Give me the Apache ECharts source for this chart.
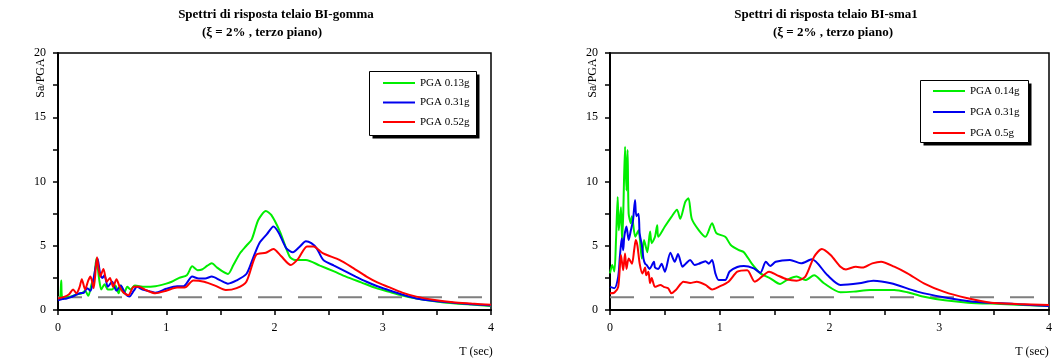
<!DOCTYPE html>
<html>
<head>
<meta charset="utf-8">
<script src="https://cdn.jsdelivr.net/npm/echarts@6/dist/echarts.min.js"></script>
<style>
  html, body { margin: 0; padding: 0; background: #fff; }
  #chart { width: 1060px; height: 362px; }
</style>
</head>
<body>
<div id="chart"></div>
<script>
// tick labels
const xTicks = [0, 1, 2, 3, 4];
const yTicks = [0, 5, 10, 15, 20];

// legend names
const namesGomma = ['PGA 0.13g', 'PGA 0.31g', 'PGA 0.52g'];
const namesSma = ['PGA 0.14g', 'PGA 0.31g', 'PGA 0.5g'];

// reference level Sa/PGA = 1
const refLine = [[0, 1], [4, 1]];

// [T (sec), Sa/PGA] (BI-gomma)
const gommaGreen = [[0,0.85],[0.02,0.9],[0.03,2.3],[0.04,0.95],[0.08,1.0],[0.12,1.05],[0.17,1.2],[0.22,1.3],[0.25,1.5],[0.28,1.1],[0.31,2.0],[0.335,2.6],[0.355,4.0],[0.38,2.4],[0.4,1.6],[0.43,2.0],[0.46,1.6],[0.5,1.6],[0.53,1.9],[0.56,1.3],[0.58,1.9],[0.61,1.3],[0.64,1.8],[0.67,1.6],[0.71,1.9],[0.8,1.8],[0.9,1.85],[1.0,2.05],[1.05,2.2],[1.12,2.5],[1.19,2.7],[1.24,3.4],[1.29,3.1],[1.33,3.15],[1.38,3.45],[1.42,3.63],[1.47,3.3],[1.52,3.0],[1.57,2.8],[1.62,3.5],[1.68,4.4],[1.74,5.0],[1.79,5.5],[1.85,7.0],[1.92,7.7],[1.97,7.4],[2.05,6.1],[2.14,4.15],[2.19,3.9],[2.29,3.9],[2.42,3.45],[2.55,3.0],[2.66,2.6],[2.8,2.15],[2.94,1.7],[3.05,1.43],[3.18,1.12],[3.31,0.9],[3.48,0.68],[3.65,0.52],[3.82,0.42],[4,0.32]];
const gommaBlue = [[0,0.75],[0.04,0.85],[0.08,0.9],[0.12,1.0],[0.16,1.15],[0.2,1.3],[0.24,1.35],[0.27,1.7],[0.3,1.5],[0.33,2.5],[0.365,4.0],[0.39,2.8],[0.41,2.5],[0.43,2.7],[0.46,1.8],[0.5,2.2],[0.54,1.5],[0.58,1.9],[0.62,1.3],[0.66,1.05],[0.7,1.5],[0.73,1.8],[0.78,1.6],[0.85,1.45],[0.9,1.35],[1.0,1.65],[1.1,1.85],[1.16,1.85],[1.24,2.6],[1.3,2.45],[1.36,2.45],[1.42,2.6],[1.5,2.3],[1.57,2.05],[1.65,2.3],[1.74,2.8],[1.8,4.0],[1.86,5.2],[1.93,5.9],[1.99,6.5],[2.04,6.0],[2.11,4.8],[2.17,4.5],[2.23,4.9],[2.29,5.35],[2.34,5.2],[2.39,4.8],[2.45,3.9],[2.55,3.45],[2.66,2.98],[2.75,2.6],[2.85,2.2],[2.95,1.85],[3.05,1.56],[3.18,1.2],[3.31,0.9],[3.48,0.7],[3.65,0.57],[3.82,0.45],[4,0.35]];
const gommaRed = [[0,0.9],[0.05,1.0],[0.1,1.2],[0.14,1.6],[0.17,1.3],[0.2,1.8],[0.22,2.4],[0.25,1.6],[0.28,2.3],[0.3,2.6],[0.33,1.7],[0.36,4.1],[0.39,2.6],[0.42,3.2],[0.45,2.2],[0.48,2.5],[0.51,1.8],[0.54,2.4],[0.57,1.8],[0.6,1.4],[0.65,1.15],[0.7,1.8],[0.75,1.8],[0.8,1.6],[0.9,1.3],[1.0,1.5],[1.1,1.75],[1.17,1.75],[1.25,2.3],[1.35,2.2],[1.45,1.9],[1.55,1.55],[1.65,1.7],[1.74,2.2],[1.83,4.28],[1.92,4.45],[1.99,4.75],[2.06,4.2],[2.15,3.5],[2.22,4.0],[2.3,4.95],[2.36,4.95],[2.45,4.4],[2.6,3.9],[2.72,3.3],[2.85,2.6],[2.95,2.15],[3.05,1.8],[3.18,1.35],[3.31,1.04],[3.48,0.78],[3.65,0.6],[3.82,0.5],[4,0.4]];

// [T (sec), Sa/PGA] (BI-sma1)
const smaGreen = [[0,2.85],[0.02,3.5],[0.04,3.0],[0.055,5.5],[0.07,8.8],[0.08,6.2],[0.1,8.0],[0.11,5.45],[0.12,7.3],[0.137,12.7],[0.15,9.3],[0.16,12.45],[0.17,7.5],[0.19,6.75],[0.2,7.3],[0.23,5.7],[0.26,6.2],[0.29,4.0],[0.31,5.45],[0.34,4.5],[0.365,6.1],[0.38,5.2],[0.41,5.7],[0.43,6.6],[0.44,5.7],[0.5,6.5],[0.56,7.25],[0.61,7.8],[0.64,7.1],[0.685,8.4],[0.715,8.7],[0.745,7.1],[0.81,6.2],[0.87,5.7],[0.93,6.75],[0.97,5.97],[1.05,5.7],[1.1,5.06],[1.17,4.67],[1.22,4.5],[1.29,3.63],[1.37,2.85],[1.46,2.47],[1.55,2.02],[1.61,2.33],[1.7,2.6],[1.78,2.33],[1.86,2.7],[1.95,2.08],[2.1,1.38],[2.22,1.43],[2.37,1.56],[2.59,1.56],[2.71,1.38],[2.85,1.05],[3.05,0.75],[3.26,0.57],[3.56,0.47],[4,0.31]];
const smaBlue = [[0,1.8],[0.04,1.7],[0.075,2.6],[0.09,4.15],[0.107,5.58],[0.12,4.65],[0.13,5.7],[0.15,6.5],[0.17,5.45],[0.19,6.2],[0.21,7.0],[0.228,8.56],[0.24,7.3],[0.26,7.5],[0.27,5.97],[0.29,5.06],[0.305,4.0],[0.32,3.6],[0.335,3.5],[0.36,3.2],[0.4,3.76],[0.41,3.3],[0.44,3.2],[0.47,3.6],[0.5,2.98],[0.55,4.46],[0.59,3.76],[0.62,4.36],[0.66,3.37],[0.69,3.6],[0.73,3.9],[0.77,3.5],[0.81,3.6],[0.87,3.8],[0.9,3.6],[0.93,3.9],[0.96,2.85],[0.99,2.33],[1.05,2.33],[1.09,3.0],[1.16,3.35],[1.22,3.42],[1.31,3.24],[1.37,2.9],[1.42,3.76],[1.46,3.42],[1.51,3.76],[1.64,3.9],[1.74,3.63],[1.84,3.94],[1.98,2.72],[2.1,1.95],[2.27,2.08],[2.4,2.28],[2.56,2.08],[2.8,1.43],[3.04,0.99],[3.31,0.65],[3.68,0.47],[4,0.31]];
const smaRed = [[0,1.3],[0.04,1.35],[0.075,1.8],[0.1,4.28],[0.12,3.1],[0.137,4.4],[0.15,3.2],[0.17,4.0],[0.2,3.6],[0.22,4.67],[0.235,5.45],[0.25,5.0],[0.27,3.63],[0.295,2.85],[0.32,3.3],[0.33,2.7],[0.35,2.98],[0.365,2.08],[0.38,2.5],[0.41,1.8],[0.46,1.95],[0.49,1.8],[0.53,1.69],[0.56,1.3],[0.6,1.56],[0.67,2.2],[0.73,2.1],[0.79,2.2],[0.87,1.95],[0.93,1.6],[0.99,1.8],[1.08,2.2],[1.16,2.98],[1.25,3.1],[1.32,2.2],[1.45,2.98],[1.52,2.72],[1.61,2.39],[1.7,2.28],[1.78,2.6],[1.86,4.15],[1.93,4.75],[2.01,4.28],[2.1,3.37],[2.15,3.16],[2.24,3.37],[2.3,3.3],[2.39,3.63],[2.47,3.76],[2.59,3.37],[2.71,2.85],[2.86,2.08],[3.04,1.43],[3.26,0.91],[3.47,0.57],[3.71,0.47],[4,0.39]];

const FONT = '"Liberation Serif", "Times New Roman", serif';
const colors = ['#00ee00', '#0000ee', '#ff0000'];

const chart = echarts.init(document.getElementById('chart'));

function xAxisFor(idx) {
  return {
    type: 'value', gridIndex: idx, min: xTicks[0], max: xTicks[xTicks.length - 1], interval: 1,
    axisLine: { show: true, onZero: false, lineStyle: { color: '#000', width: 2 } },
    axisTick: { show: true, inside: false, length: 5, lineStyle: { color: '#000', width: 1.5 } },
    minorTick: { show: true, splitNumber: 2, length: 5, lineStyle: { color: '#000', width: 1.5 } },
    axisLabel: { color: '#000', fontFamily: FONT, fontSize: 12, margin: 12 },
    splitLine: { show: false }
  };
}

function yAxisFor(idx) {
  return {
    type: 'value', gridIndex: idx, min: yTicks[0], max: yTicks[yTicks.length - 1], interval: 5,
    axisLine: { show: true, lineStyle: { color: '#000', width: 2 } },
    axisTick: { show: true, inside: false, length: 5, lineStyle: { color: '#000', width: 1.5 } },
    minorTick: { show: true, splitNumber: 2, length: 5, lineStyle: { color: '#000', width: 1.5 } },
    axisLabel: { color: '#000', fontFamily: FONT, fontSize: 12, margin: 12 },
    splitLine: { show: false }
  };
}

function curve(name, data, color, idx) {
  return {
    name: name, type: 'line', xAxisIndex: idx, yAxisIndex: idx,
    data: data, showSymbol: false, symbol: 'none', smooth: 0.25,
    lineStyle: { color: color, width: 2 }, itemStyle: { color: color },
    z: 3, silent: true, animation: false
  };
}

function dashed(idx) {
  return {
    name: 'ref', type: 'line', xAxisIndex: idx, yAxisIndex: idx,
    data: refLine, symbol: 'none',
    lineStyle: { color: '#7f7f7f', width: 2, type: [24, 16] },
    z: 2, silent: true, animation: false
  };
}

function legendFor(names, left, top, gap) {
  return {
    data: names.map(n => ({ name: n, icon: 'rect' })),
    orient: 'vertical', left: left, top: top, padding: 0,
    itemWidth: 32, itemHeight: 2, itemGap: gap,
    textStyle: { fontFamily: FONT, fontSize: 11, color: '#000', lineHeight: 14 },
    selectedMode: false, z: 10
  };
}

// legend frame with its hard black drop shadow
function legendBox(x, y, w, h) {
  return [
    { type: 'rect', z: 5, shape: { x: x + 3, y: y + 3, width: w, height: h }, style: { fill: '#000' } },
    { type: 'rect', z: 6, shape: { x: x, y: y, width: w, height: h }, style: { fill: '#fff', stroke: '#000', lineWidth: 1 } }
  ];
}

function label(text, x, y, opts) {
  return Object.assign({
    type: 'text', x: x, y: y,
    style: {
      text: text, fill: '#000', font: (opts && opts.font) || ('12px ' + FONT),
      textAlign: 'center', textVerticalAlign: 'middle', align: 'center', verticalAlign: 'middle'
    }
  }, opts && opts.rotation ? { rotation: opts.rotation } : {});
}

const option = {
  backgroundColor: '#fff',
  animation: false,
  grid: [
    { left: 58, top: 53, width: 433, height: 257, show: true, borderColor: '#000', borderWidth: 1.5, backgroundColor: 'transparent' },
    { left: 610, top: 53, width: 439, height: 257, show: true, borderColor: '#000', borderWidth: 1.5, backgroundColor: 'transparent' }
  ],
  xAxis: [xAxisFor(0), xAxisFor(1)],
  yAxis: [yAxisFor(0), yAxisFor(1)],
  legend: [
    legendFor(namesGomma, 383, 76, 5.5),
    legendFor(namesSma, 933, 84, 7)
  ],
  graphic: [
    ...legendBox(369.5, 71.5, 107, 64),
    ...legendBox(920.5, 80.5, 108, 62),
    label('Spettri di risposta telaio BI-gomma', 276, 15, { font: 'bold 13px ' + FONT }),
    label('(ξ = 2% , terzo piano)', 262, 33, { font: 'bold 13px ' + FONT }),
    label('Spettri di risposta telaio BI-sma1', 826, 15, { font: 'bold 13px ' + FONT }),
    label('(ξ = 2% , terzo piano)', 833, 33, { font: 'bold 13px ' + FONT }),
    label('Sa/PGA', 41, 78, { rotation: Math.PI / 2 }),
    label('Sa/PGA', 593, 78, { rotation: Math.PI / 2 }),
    label('T (sec)', 476, 352),
    label('T (sec)', 1032, 352)
  ],
  series: [
    dashed(0),
    curve(namesGomma[0], gommaGreen, colors[0], 0),
    curve(namesGomma[1], gommaBlue, colors[1], 0),
    curve(namesGomma[2], gommaRed, colors[2], 0),
    dashed(1),
    curve(namesSma[0], smaGreen, colors[0], 1),
    curve(namesSma[1], smaBlue, colors[1], 1),
    curve(namesSma[2], smaRed, colors[2], 1)
  ]
};

chart.setOption(option);
window.addEventListener('resize', () => chart.resize());
</script>
</body>
</html>
